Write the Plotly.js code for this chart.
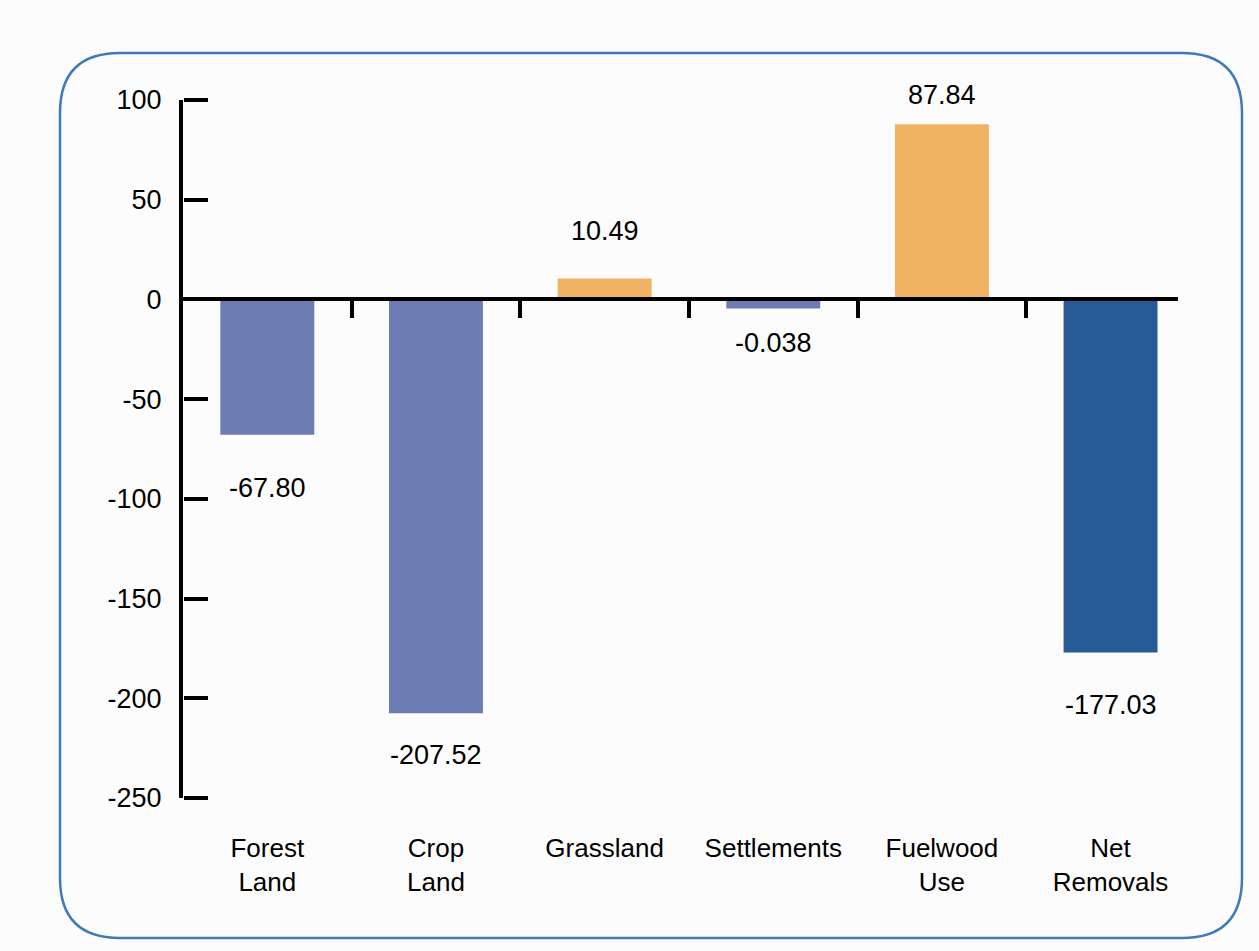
<!DOCTYPE html>
<html>
<head>
<meta charset="utf-8">
<script src="https://cdn.plot.ly/plotly-3.0.1.min.js"></script>
<style>
  html, body { margin: 0; padding: 0; background: #fcfcfc; }
  #chart { width: 1259px; height: 951px; }
</style>
</head>
<body>
<div id="chart"></div>
<script>
// ---- data ----
const categories = ['Forest<br>Land', 'Crop<br>Land', 'Grassland', 'Settlements', 'Fuelwood<br>Use', 'Net<br>Removals'];
// bar heights as drawn (the Settlements bar is drawn slightly below zero)
const values = [-67.80, -207.52, 10.49, -4.5, 87.84, -177.03];
const valueLabels = ['-67.80', '-207.52', '10.49', '-0.038', '87.84', '-177.03'];
const yTickValues = [100, 50, 0, -50, -100, -150, -200, -250];
const yTickLabels = ['100', '50', '0', '-50', '-100', '-150', '-200', '-250'];

// ---- styling ----
const barColors = ['#6d7db4', '#6d7db4', '#f0b263', '#6d7db4', '#f0b263', '#265b96'];
const labelGap = [53, 42, 48, 35, 29, 53]; // pixel distance of label centre from bar end
const W = 1259, H = 951;
const M = { l: 183, r: 81, t: 100, b: 153 };
const yMin = -250, yMax = 100;
const idx = categories.map((_, i) => i);

// rounded border frame (pixel -> paper conversion)
const pw = W - M.l - M.r, ph = H - M.t - M.b;
const px = x => (x - M.l) / pw;
const py = y => (H - M.b - y) / ph;
function roundedRect(x0, y0, x1, y1, r) {
  return 'M ' + px(x0 + r) + ',' + py(y0) +
    ' L ' + px(x1 - r) + ',' + py(y0) +
    ' Q ' + px(x1) + ',' + py(y0) + ' ' + px(x1) + ',' + py(y0 + r) +
    ' L ' + px(x1) + ',' + py(y1 - r) +
    ' Q ' + px(x1) + ',' + py(y1) + ' ' + px(x1 - r) + ',' + py(y1) +
    ' L ' + px(x0 + r) + ',' + py(y1) +
    ' Q ' + px(x0) + ',' + py(y1) + ' ' + px(x0) + ',' + py(y1 - r) +
    ' L ' + px(x0) + ',' + py(y0 + r) +
    ' Q ' + px(x0) + ',' + py(y0) + ' ' + px(x0 + r) + ',' + py(y0) + ' Z';
}

const font = 'Liberation Sans, Arial, sans-serif';

const traces = [
  {
    type: 'bar',
    x: idx,
    y: values,
    width: 0.557,
    marker: { color: barColors, line: { width: 0 } },
    hoverinfo: 'skip',
    showlegend: false
  },
  {
    type: 'scatter',
    mode: 'markers',
    x: [null], y: [null],
    xaxis: 'x2', yaxis: 'y2',
    hoverinfo: 'skip',
    showlegend: false
  }
];

const annotations = values.map((v, i) => ({
  x: i, y: v, xref: 'x', yref: 'y',
  text: valueLabels[i],
  showarrow: false,
  xanchor: 'center', yanchor: 'middle',
  yshift: v < 0 ? -labelGap[i] : labelGap[i],
  font: { family: font, size: 27, color: '#000' }
}));

const layout = {
  width: W, height: H,
  margin: { l: M.l, r: M.r, t: M.t, b: M.b, pad: 0 },
  paper_bgcolor: '#fcfcfc',
  plot_bgcolor: 'rgba(0,0,0,0)',
  showlegend: false,
  xaxis: {
    range: [-0.5, 5.4],
    tickmode: 'array',
    tickvals: idx,
    ticktext: categories,
    ticks: '',
    showline: false,
    showgrid: false,
    zeroline: false,
    ticklabelstandoff: 32,
    tickfont: { family: font, size: 26, color: '#000' },
    fixedrange: true
  },
  xaxis2: {
    overlaying: 'x',
    anchor: 'free',
    position: (0 - yMin) / (yMax - yMin),
    range: [-0.5, 5.4],
    tickmode: 'array',
    tickvals: [0.5, 1.5, 2.5, 3.5, 4.5],
    ticks: 'outside',
    ticklen: 17,
    tickwidth: 4,
    tickcolor: '#000',
    showticklabels: false,
    showline: true,
    linewidth: 4,
    linecolor: '#000',
    showgrid: false,
    zeroline: false,
    layer: 'above traces'
  },
  yaxis: {
    range: [yMin, yMax],
    tickmode: 'array',
    tickvals: yTickValues,
    ticktext: yTickLabels,
    ticks: '',
    showline: true,
    linewidth: 4,
    linecolor: '#000',
    showgrid: false,
    zeroline: false,
    ticklabelstandoff: 12,
    tickfont: { family: font, size: 27, color: '#000' },
    fixedrange: true
  },
  yaxis2: {
    overlaying: 'y',
    side: 'right',
    anchor: 'free',
    position: 0,
    range: [yMin, yMax],
    tickmode: 'array',
    tickvals: yTickValues,
    ticks: 'outside',
    ticklen: 24,
    tickwidth: 4,
    tickcolor: '#000',
    showticklabels: false,
    showline: false,
    showgrid: false,
    zeroline: false
  },
  annotations: annotations,
  shapes: [{
    type: 'path',
    xref: 'paper', yref: 'paper',
    path: roundedRect(60, 53, 1242, 938, 60),
    line: { color: '#3e7bb8', width: 2.5 },
    fillcolor: 'rgba(0,0,0,0)',
    layer: 'below'
  }]
};

Plotly.newPlot('chart', traces, layout, { displayModeBar: false, staticPlot: true });
</script>
</body>
</html>
